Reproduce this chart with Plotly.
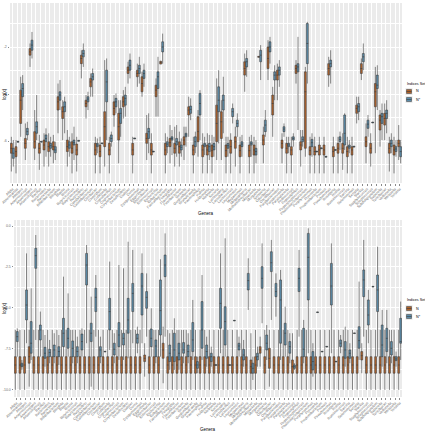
import plotly.graph_objects as go

genera = ["Afipia","Akkermansia","Alistipes","Anaerococcus","Anaerostipes","Anaerotruncus",
"Bacillus","Bacteroides","Barnesiella","Bifidobacterium","Bilophila","Blautia",
"Bosea","Butyricicoccus","Butyricimonas","Butyrivibrio","Campylobacter","Catenibacterium",
"Citrobacter","Clostridium","Collinsella","Coprobacillus","Coprococcus","Corynebacterium",
"Desulfovibrio","Dialister","Dorea","Dysgonomonas","Eggerthella","Enterobacter",
"Enterococcus","Escherichia","Eubacterium","Faecalibacterium","Finegoldia","Flavonifractor",
"Fusobacterium","Gemella","Gordonibacter","Granulicatella","Haemophilus","Hafnia",
"Holdemania","Klebsiella","Kocuria","Lachnospira","Lactobacillus","Lactococcus",
"Leuconostoc","Megamonas","Megasphaera","Methanobrevibacter","Mitsuokella","Morganella",
"Neisseria","Odoribacter","Oscillibacter","Parabacteroides","Paraprevotella","Parasutterella",
"Pediococcus","Peptoniphilus","Peptostreptococcus","Phascolarctobacterium","Porphyromonas","Prevotella",
"Propionibacterium","Proteus","Pseudomonas","Roseburia","Rothia","Ruminococcus",
"Sarcina","Selenomonas","Serratia","Slackia","Staphylococcus","Streptococcus",
"Subdoligranulum","Sutterella","Turicibacter","Veillonella","Weissella","Yersinia"]

series_names = ["N", "N*"]

# ---------------- top panel: N ----------------
top_n_lo = [-7.30,-7.38,-5.82,-6.81,-2.84,-6.81,-7.23,-7.09,-7.09,-6.95,-5.67,-5.96,
            -7.09,-7.38,-7.30,-3.33,-5.04,-4.11,-7.38,-7.38,-7.09,-7.38,-5.39,-6.95,
            -5.04,-3.55,-7.38,-3.69,-4.11,-6.81,-7.38,-4.96,-2.72,-7.38,-6.95,-7.09,
            -7.09,-6.81,-5.82,-7.38,-6.67,-7.38,-7.38,-7.38,-6.81,-6.81,-7.38,-7.38,
            -7.09,-7.38,-3.90,-7.38,-7.38,-2.43,-6.95,-3.40,-5.82,-4.26,-6.95,-7.38,
            -7.38,-3.55,-7.09,-6.67,-7.38,-7.38,-7.38,-7.38,-3.69,-7.38,-7.38,-7.23,
            -7.38,-7.38,-5.25,-3.40,-6.95,-7.09,-6.52,-6.24,-5.96,-7.30,-7.38,-6.81]
top_n_q1 = [-6.52,-6.67,-5.25,-6.31,-2.34,-6.31,-6.52,-6.38,-6.45,-6.38,-4.68,-5.04,
            -6.45,-6.52,-6.60,-2.70,-4.54,-3.69,-6.60,-6.67,-6.24,-6.60,-4.89,-5.96,
            -4.54,-3.12,-6.60,-3.26,-3.90,-6.10,-6.60,-4.11,-2.72,-6.60,-6.24,-6.52,
            -6.52,-6.17,-4.89,-6.60,-6.03,-6.67,-6.60,-6.67,-6.03,-5.89,-6.67,-6.52,
            -6.31,-6.67,-3.19,-6.67,-6.60,-2.43,-6.17,-2.91,-4.89,-3.40,-6.31,-6.52,
            -6.60,-3.12,-6.38,-6.31,-6.60,-6.60,-6.60,-6.60,-3.19,-6.67,-6.52,-6.52,
            -6.67,-6.60,-4.82,-3.12,-6.24,-6.52,-4.54,-5.53,-5.32,-6.52,-6.60,-6.24]
top_n_med = [-6.31,-6.45,-4.26,-6.10,-2.20,-6.03,-6.31,-6.17,-6.24,-6.24,-4.33,-4.75,
             -6.24,-6.31,-6.38,-2.48,-4.40,-3.48,-6.38,-6.45,-5.39,-6.38,-4.61,-5.39,
             -4.33,-2.98,-6.38,-3.12,-3.55,-5.89,-6.38,-3.83,-2.65,-6.38,-6.07,-6.31,
             -6.24,-5.96,-4.68,-6.38,-5.60,-6.38,-6.38,-6.41,-5.25,-5.18,-6.41,-6.24,
             -6.03,-6.41,-2.91,-6.41,-6.38,-2.41,-5.96,-2.48,-4.40,-3.19,-6.10,-6.31,
             -6.38,-2.91,-6.17,-3.90,-6.41,-6.45,-6.38,-6.38,-2.91,-6.45,-6.31,-6.31,
             -6.45,-6.38,-4.61,-2.91,-6.03,-6.31,-3.90,-5.11,-5.04,-6.31,-6.38,-6.10]
top_n_q3 = [-6.10,-6.24,-3.83,-5.89,-2.06,-5.60,-6.10,-5.96,-6.03,-6.03,-4.11,-4.54,
            -5.96,-6.03,-6.13,-2.34,-4.26,-3.33,-6.10,-6.17,-4.75,-6.10,-4.33,-4.82,
            -4.11,-2.84,-6.10,-2.98,-3.26,-5.67,-6.10,-3.62,-2.60,-6.10,-5.89,-6.10,
            -6.03,-5.82,-4.54,-6.17,-4.96,-6.17,-6.17,-6.17,-4.47,-4.75,-6.17,-5.96,
            -5.82,-6.17,-2.62,-6.17,-6.17,-2.39,-5.74,-1.99,-4.04,-2.98,-5.96,-6.10,
            -6.24,-2.77,-6.03,-3.05,-6.24,-6.24,-6.17,-6.17,-2.70,-6.24,-6.10,-6.10,
            -6.24,-6.24,-4.47,-2.70,-5.82,-6.10,-3.55,-4.89,-4.82,-6.10,-6.17,-5.96]
top_n_hi = [-5.82,-5.96,-3.26,-5.25,-1.84,-4.68,-5.74,-5.67,-5.67,-5.74,-3.55,-4.26,
            -5.53,-5.67,-5.82,-2.13,-4.04,-3.12,-5.82,-5.82,-2.55,-5.82,-4.04,-4.26,
            -3.83,-2.62,-5.82,-2.70,-3.05,-4.89,-5.67,-3.33,-2.58,-5.67,-5.32,-5.39,
            -5.60,-5.39,-4.11,-5.82,-4.68,-5.67,-5.67,-5.74,-3.33,-4.26,-5.82,-5.67,
            -5.39,-5.82,-2.27,-5.82,-5.82,-2.39,-5.39,-1.70,-3.69,-2.70,-5.67,-5.82,
            -5.82,-2.55,-5.53,-2.84,-5.82,-5.82,-5.82,-5.82,-2.41,-5.82,-5.82,-5.67,
            -5.82,-5.82,-4.11,-2.48,-5.25,-5.67,-2.84,-4.68,-4.40,-5.82,-5.82,-5.32]

# ---------------- top panel: N* ----------------
top_s_lo = [-7.09,-6.05,-4.68,-5.96,-2.48,-5.96,-6.05,-6.67,-6.67,-6.81,-4.68,-5.67,
            -6.67,-6.81,-6.01,-2.84,-4.68,-4.11,-6.52,-6.12,-5.96,-6.24,-4.82,-5.82,
            -4.96,-3.33,-5.91,-3.55,-3.69,-6.52,-6.47,-4.96,-2.70,-6.52,-6.60,-6.67,
            -6.67,-6.24,-5.11,-6.52,-5.96,-6.60,-6.81,-6.67,-6.10,-5.67,-6.67,-5.25,
            -5.82,-6.67,-3.26,-6.67,-6.95,-3.40,-5.82,-2.70,-4.26,-3.69,-5.82,-6.52,
            -6.24,-5.53,-6.24,-3.55,-6.67,-6.47,-6.33,-6.69,-3.55,-6.40,-6.38,-6.38,
            -6.52,-6.26,-5.11,-2.98,-5.82,-5.23,-4.68,-5.96,-5.67,-6.52,-6.67,-6.95]
top_s_q1 = [-6.74,-6.05,-4.11,-5.74,-2.13,-5.67,-6.05,-6.03,-6.31,-6.50,-4.26,-4.75,
            -6.31,-6.17,-6.01,-2.41,-4.33,-3.40,-6.24,-6.12,-4.33,-6.03,-4.54,-5.25,
            -4.47,-2.98,-5.91,-3.12,-3.33,-5.89,-6.47,-3.76,-2.20,-6.24,-5.96,-6.17,
            -6.38,-5.82,-4.82,-6.24,-4.89,-6.24,-6.45,-6.38,-4.75,-4.68,-6.31,-4.96,
            -5.39,-6.24,-2.84,-6.17,-6.60,-2.62,-5.60,-2.20,-3.40,-3.19,-5.60,-6.24,
            -5.96,-3.05,-6.03,-2.70,-6.24,-6.47,-6.33,-6.69,-2.84,-6.40,-6.03,-6.17,
            -6.31,-6.26,-4.75,-2.62,-5.46,-5.23,-3.76,-5.25,-5.04,-6.24,-6.45,-6.67]
top_s_med = [-6.52,-6.03,-3.76,-5.60,-1.91,-5.39,-6.03,-5.89,-6.20,-6.38,-4.04,-4.54,
             -6.17,-6.07,-5.99,-2.27,-4.21,-3.26,-6.17,-6.10,-3.48,-5.89,-4.33,-4.82,
             -4.18,-2.77,-5.89,-2.91,-3.12,-5.60,-6.45,-3.26,-1.99,-6.13,-5.89,-6.03,
             -6.27,-5.74,-4.65,-6.03,-4.40,-6.17,-6.24,-6.24,-4.26,-4.26,-6.20,-4.75,
             -5.25,-6.13,-2.62,-6.10,-6.45,-2.34,-5.32,-1.99,-3.19,-2.98,-5.49,-6.17,
             -5.89,-2.84,-5.93,-1.84,-6.07,-6.45,-6.31,-6.67,-2.70,-6.38,-5.93,-5.67,
             -6.24,-6.24,-4.54,-2.41,-5.28,-5.21,-3.62,-4.96,-4.82,-6.10,-6.34,-6.45]
top_s_q3 = [-6.31,-6.01,-3.55,-5.46,-1.70,-5.18,-6.01,-5.74,-6.10,-6.24,-3.90,-4.33,
            -6.03,-5.96,-5.97,-2.13,-4.11,-3.12,-6.10,-6.08,-2.98,-5.74,-4.18,-4.61,
            -4.04,-2.55,-5.87,-2.77,-2.98,-5.46,-6.43,-3.05,-1.77,-6.03,-5.82,-5.89,
            -6.17,-5.67,-4.51,-5.82,-3.97,-6.10,-6.10,-6.10,-3.69,-4.04,-6.10,-4.61,
            -5.11,-6.03,-2.48,-6.03,-6.31,-2.13,-5.11,-1.77,-3.05,-2.84,-5.39,-6.10,
            -5.82,-2.70,-5.82,-0.99,-5.93,-6.43,-6.29,-6.65,-2.55,-6.36,-5.82,-4.89,
            -6.17,-6.22,-4.40,-2.27,-5.11,-5.19,-3.19,-4.82,-4.68,-5.96,-6.24,-6.24]
top_s_hi = [-5.96,-6.01,-3.19,-5.18,-1.35,-4.04,-6.01,-5.46,-5.82,-6.03,-3.40,-4.11,
            -5.82,-5.39,-5.97,-1.84,-3.90,-2.91,-5.89,-6.08,-2.48,-5.60,-3.97,-4.26,
            -3.69,-2.27,-5.87,-2.41,-2.70,-4.82,-6.43,-2.41,-1.42,-5.82,-5.53,-5.32,
            -5.89,-5.39,-4.18,-5.60,-3.83,-5.82,-5.74,-5.82,-2.98,-3.26,-5.82,-4.40,
            -4.82,-5.74,-2.13,-5.74,-5.96,-1.91,-4.68,-1.56,-2.77,-2.55,-5.25,-5.82,
            -5.67,-1.56,-5.53,-0.92,-5.67,-6.43,-6.29,-6.65,-2.13,-6.36,-5.60,-4.82,
            -5.96,-6.22,-4.11,-1.84,-4.89,-5.19,-2.77,-4.40,-4.26,-5.67,-5.96,-5.96]

# ---------------- bottom panel: N ----------------
bot_n_lo = [-10.0,-10.0,-10.0,-9.80,-10.0,-10.0,-10.0,-10.0,-10.0,-10.0,-10.0,-10.0,
            -10.0,-10.0,-10.0,-10.0,-10.0,-10.0,-10.0,-10.0,-10.0,-10.0,-10.0,-10.0,
            -10.0,-10.0,-10.0,-10.0,-9.19,-10.0,-10.0,-10.0,-9.59,-10.0,-10.0,-10.0,
            -10.0,-10.0,-10.0,-10.0,-10.0,-10.0,-10.0,-10.0,-10.0,-10.0,-10.0,-10.0,
            -10.0,-10.0,-10.0,-10.0,-10.0,-8.58,-10.0,-9.80,-10.0,-10.0,-10.0,-10.0,
            -10.0,-10.0,-10.0,-10.0,-10.0,-10.0,-10.0,-10.0,-10.0,-10.0,-10.0,-10.0,
            -10.0,-10.0,-10.0,-8.98,-10.0,-10.0,-10.0,-10.0,-10.0,-10.0,-10.0,-10.0]
bot_n_q1 = [-8.98,-8.98,-8.98,-8.37,-8.98,-8.98,-8.98,-8.98,-8.98,-8.98,-8.98,-8.98,
            -8.98,-8.98,-8.98,-8.98,-8.98,-8.98,-8.98,-8.98,-8.98,-8.98,-8.98,-8.98,
            -8.98,-8.98,-8.98,-8.98,-8.27,-8.98,-8.98,-8.98,-8.07,-8.98,-8.98,-8.98,
            -8.98,-8.98,-8.98,-8.98,-8.98,-8.98,-8.98,-8.98,-8.98,-8.98,-8.98,-8.98,
            -8.98,-8.98,-8.98,-8.98,-8.98,-7.76,-8.98,-8.68,-8.98,-8.98,-8.98,-8.98,
            -8.98,-8.98,-8.98,-8.98,-8.98,-8.98,-8.98,-8.98,-8.98,-8.98,-8.98,-8.98,
            -8.98,-8.98,-8.98,-8.17,-8.98,-8.98,-8.98,-8.98,-8.98,-8.98,-8.98,-8.98]
bot_n_med = [-8.48,-8.48,-8.48,-7.97,-8.48,-8.48,-8.48,-8.48,-8.48,-8.48,-8.48,-8.48,
             -8.48,-8.48,-8.48,-8.48,-8.48,-8.48,-8.48,-8.48,-8.48,-8.48,-8.48,-8.48,
             -8.48,-8.48,-8.48,-8.48,-8.07,-8.48,-8.48,-8.48,-7.56,-8.48,-8.48,-8.48,
             -8.48,-8.48,-8.48,-8.48,-8.48,-8.48,-8.48,-8.48,-8.48,-8.48,-8.48,-8.48,
             -8.48,-8.48,-8.48,-8.58,-8.48,-7.56,-8.48,-8.07,-8.48,-8.48,-8.48,-8.48,
             -8.58,-8.48,-8.48,-8.48,-8.48,-8.48,-8.48,-8.48,-8.48,-8.48,-8.48,-8.48,
             -8.48,-8.48,-8.48,-7.91,-8.48,-8.48,-8.48,-8.48,-8.48,-8.48,-8.48,-8.48]
bot_n_q3 = [-7.97,-7.97,-7.97,-7.36,-7.97,-7.97,-7.97,-7.97,-7.97,-7.97,-7.97,-7.97,
            -7.97,-7.97,-7.97,-7.97,-7.97,-7.97,-7.97,-7.97,-7.97,-7.97,-7.97,-7.97,
            -7.97,-7.97,-7.97,-7.97,-7.87,-7.97,-7.97,-7.97,-7.15,-7.97,-7.97,-7.97,
            -7.97,-7.97,-7.97,-7.97,-7.97,-7.97,-7.97,-7.97,-7.97,-7.97,-7.97,-7.97,
            -7.97,-7.97,-7.97,-8.17,-7.97,-7.36,-7.97,-7.46,-7.97,-7.97,-7.97,-7.97,
            -8.17,-7.97,-7.97,-7.97,-7.97,-7.97,-7.97,-7.97,-7.97,-7.97,-7.97,-7.97,
            -7.97,-7.97,-7.97,-7.66,-7.97,-7.97,-7.97,-7.97,-7.97,-7.97,-7.97,-7.97]
bot_n_hi = [-6.34,-6.34,-6.34,-6.34,-6.34,-6.34,-6.34,-6.34,-6.34,-6.34,-6.34,-6.34,
            -6.34,-6.34,-6.34,-6.34,-6.34,-6.34,-6.34,-6.34,-6.34,-6.34,-6.34,-6.34,
            -6.34,-6.34,-6.34,-6.34,-7.15,-6.34,-6.34,-6.34,-6.14,-6.34,-6.34,-6.34,
            -6.34,-6.34,-6.34,-6.34,-6.34,-6.34,-6.34,-6.34,-6.34,-6.34,-6.34,-6.34,
            -6.34,-6.34,-6.34,-6.54,-6.34,-6.75,-6.34,-6.34,-6.34,-6.34,-6.34,-6.34,
            -6.54,-6.34,-6.34,-6.34,-6.34,-6.34,-6.34,-6.34,-6.34,-6.34,-6.34,-6.34,
            -6.34,-6.34,-6.34,-7.15,-6.34,-6.34,-6.34,-6.34,-6.34,-6.34,-6.34,-6.34]

# ---------------- bottom panel: N* ----------------
bot_s_lo = [-7.97,-8.78,-7.15,-8.17,-6.95,-7.97,-8.58,-8.37,-8.37,-8.48,-7.97,-7.97,
            -8.37,-8.37,-7.97,-7.15,-9.80,-6.75,-8.37,-7.68,-7.56,-8.37,-8.17,-8.17,
            -8.07,-7.15,-7.76,-7.15,-6.75,-7.97,-8.37,-7.97,-6.75,-8.78,-8.78,-8.78,
            -8.37,-8.37,-8.17,-8.98,-8.17,-8.58,-8.58,-8.50,-7.76,-7.97,-8.50,-5.79,
            -7.97,-8.58,-5.12,-9.39,-8.58,-5.93,-8.17,-5.73,-5.53,-8.17,-7.97,-8.37,
            -8.78,-6.75,-8.37,-7.76,-9.19,-5.28,-7.68,-7.38,-7.76,-8.29,-7.76,-8.58,
            -8.37,-6.56,-8.17,-6.75,-7.15,-3.72,-7.97,-8.58,-8.37,-8.37,-8.58,-8.17]
bot_s_q1 = [-7.05,-8.58,-5.73,-7.76,-2.58,-6.95,-8.07,-7.97,-7.97,-7.97,-7.36,-7.46,
            -7.97,-7.97,-7.56,-3.60,-7.05,-5.22,-7.97,-7.68,-6.34,-7.87,-7.36,-7.26,
            -6.54,-5.22,-7.15,-5.43,-5.02,-7.36,-7.97,-6.65,-3.09,-8.27,-8.27,-8.17,
            -7.76,-7.97,-7.66,-8.68,-7.46,-8.07,-8.27,-8.50,-6.24,-7.26,-8.50,-5.79,
            -7.56,-8.17,-3.90,-8.98,-8.17,-3.80,-7.56,-2.78,-4.31,-7.15,-7.26,-7.76,
            -8.68,-4.00,-7.97,-4.51,-8.78,-5.28,-7.68,-7.38,-4.82,-8.29,-7.36,-8.07,
            -8.07,-6.56,-7.46,-4.31,-6.04,-3.72,-5.22,-7.97,-7.66,-7.87,-8.21,-7.15]
bot_s_med = [-6.75,-8.48,-4.82,-7.15,-1.81,-6.34,-7.76,-7.72,-7.56,-7.66,-6.54,-6.85,
             -7.46,-7.66,-7.05,-2.38,-6.54,-4.35,-7.56,-7.66,-5.22,-7.52,-6.65,-6.85,
             -5.73,-4.11,-6.85,-3.66,-4.35,-6.85,-7.32,-5.16,-2.38,-7.76,-7.56,-7.76,
             -7.56,-7.66,-6.95,-8.48,-6.34,-7.66,-7.97,-8.48,-4.72,-5.83,-8.48,-5.77,
             -7.32,-7.87,-3.33,-8.68,-7.97,-3.19,-7.15,-2.24,-4.00,-4.51,-6.54,-7.36,
             -8.58,-3.19,-7.52,-1.91,-8.27,-5.26,-7.66,-7.36,-3.66,-8.27,-7.15,-7.56,
             -7.76,-6.54,-6.99,-3.29,-5.43,-3.70,-3.90,-7.26,-6.85,-7.46,-8.11,-7.05]
bot_s_q3 = [-6.44,-8.37,-3.90,-5.83,-1.36,-6.04,-7.40,-7.52,-7.26,-7.36,-5.63,-6.24,
            -7.01,-7.36,-6.59,-1.67,-5.93,-3.80,-7.36,-7.64,-4.41,-7.15,-5.89,-6.54,
            -4.41,-3.50,-6.59,-2.89,-4.00,-6.28,-6.95,-3.29,-1.77,-7.26,-6.54,-7.15,
            -7.11,-7.26,-5.89,-8.27,-4.61,-7.26,-7.76,-8.46,-3.80,-4.92,-8.46,-5.75,
            -7.15,-7.52,-2.89,-8.37,-7.76,-2.48,-6.65,-1.57,-3.50,-3.29,-5.93,-7.05,
            -8.48,-2.58,-6.24,-0.45,-7.66,-5.24,-7.64,-7.34,-2.28,-8.25,-6.95,-7.05,
            -7.56,-6.52,-6.14,-2.68,-4.51,-3.68,-2.99,-6.04,-6.24,-7.05,-7.97,-5.63]
bot_s_hi = [-6.24,-8.17,-1.67,-3.80,-0.55,-5.22,-6.65,-6.95,-6.54,-6.65,-3.09,-4.11,
            -6.34,-6.75,-6.24,-1.16,-4.31,-2.99,-6.75,-7.64,-2.17,-6.54,-2.38,-2.58,
            -0.96,-1.46,-6.14,-1.67,-2.89,-5.02,-6.34,-2.03,-0.45,-6.54,-5.63,-6.34,
            -6.34,-6.54,-4.51,-7.97,-2.99,-6.75,-7.36,-8.46,-1.67,-0.75,-8.46,-5.75,
            -6.75,-6.95,-1.97,-7.97,-7.36,-1.06,-6.04,-0.85,-2.89,-2.68,-4.92,-6.54,
            -8.37,-1.46,-5.73,-0.14,-7.15,-5.24,-7.64,-7.34,-1.06,-8.25,-6.65,-6.14,
            -7.15,-6.52,-3.39,-0.85,-3.90,-3.68,-1.26,-5.12,-5.12,-6.34,-7.66,-4.61]

top_y_ticks = [-6, -4, -2]
top_y_ticklabels = ["-6", "-4", "-2"]
bot_y_ticks = [-10.0, -7.5, -5.0, -2.5, 0.0]
bot_y_ticklabels = ["-10.0", "-7.5", "-5.0", "-2.5", "0.0"]
legend_title = "Indices Set"

BROWN = "#b0622a"
BLUE = "#5b8dab"
EDGE = "#3a3a3a"
FONT = "Liberation Sans, Arial, sans-serif"

W, H = 425, 433
def px_x(p): return p / W
def px_y(p): return 1 - p / H

fig = go.Figure()

def add_box(name, color, lo, q1, med, q3, hi, xa, ya, group):
    fig.add_trace(go.Box(
        x=genera, lowerfence=lo, q1=q1, median=med, q3=q3, upperfence=hi,
        name=name, fillcolor=color, line=dict(color=EDGE, width=0.6),
        whiskerwidth=0, boxpoints=False, offsetgroup=group,
        xaxis=xa, yaxis=ya, showlegend=False, hoverinfo="skip"))

add_box(series_names[0], BROWN, top_n_lo, top_n_q1, top_n_med, top_n_q3, top_n_hi, "x", "y", "a")
add_box(series_names[1], BLUE, top_s_lo, top_s_q1, top_s_med, top_s_q3, top_s_hi, "x", "y", "b")
add_box(series_names[0], BROWN, bot_n_lo, bot_n_q1, bot_n_med, bot_n_q3, bot_n_hi, "x2", "y2", "a")
add_box(series_names[1], BLUE, bot_s_lo, bot_s_q1, bot_s_med, bot_s_q3, bot_s_hi, "x2", "y2", "b")

xcommon = dict(type="category", categoryorder="array", categoryarray=genera,
               tickmode="array", tickvals=genera, ticktext=genera,
               showgrid=True, gridcolor="white", gridwidth=0.6,
               ticks="outside", ticklen=1.5, tickcolor="#8a8a8a", tickwidth=0.4,
               tickangle=-45, tickfont=dict(size=3.6, color="#6a6a6a", family=FONT),
               showline=False, zeroline=False, fixedrange=True, automargin=False)
ycommon = dict(showgrid=True, gridcolor="white", gridwidth=0.8,
               ticks="outside", ticklen=1.5, tickcolor="#8a8a8a", tickwidth=0.4,
               tickfont=dict(size=3.5, color="#6a6a6a", family=FONT),
               showline=False, zeroline=False, automargin=False)

fig.update_layout(
    width=W, height=H, margin=dict(l=0, r=0, t=0, b=0, autoexpand=False),
    paper_bgcolor="white", plot_bgcolor="#ebebeb",
    boxmode="group", boxgap=0.16, boxgroupgap=0.04,
    font=dict(family=FONT, color="black"),
    showlegend=False,
    xaxis=dict(xcommon, domain=[px_x(10), px_x(402)], anchor="y"),
    yaxis=dict(ycommon, domain=[px_y(183), px_y(3)], anchor="x",
               range=[-7.79, -0.115], tickvals=top_y_ticks, ticktext=top_y_ticklabels,
               minor=dict(showgrid=True, gridcolor="white", gridwidth=0.4, tickvals=[-7, -5, -3, -1])),
    xaxis2=dict(xcommon, domain=[px_x(14), px_x(402)], anchor="y2"),
    yaxis2=dict(ycommon, domain=[px_y(397), px_y(220)], anchor="x2",
                range=[-10.43, 0.366], tickvals=bot_y_ticks, ticktext=bot_y_ticklabels,
                minor=dict(showgrid=True, gridcolor="white", gridwidth=0.4,
                           tickvals=[-8.75, -6.25, -3.75, -1.25])),
)

ann = [
    dict(text="log(x)", x=px_x(4), y=px_y(94), textangle=-90),
    dict(text="Genera", x=px_x(206), y=px_y(213), textangle=0),
    dict(text="log(x)", x=px_x(4), y=px_y(308), textangle=-90),
    dict(text="Genera", x=px_x(208), y=px_y(429), textangle=0),
]
for a in ann:
    fig.add_annotation(xref="paper", yref="paper", showarrow=False,
                       font=dict(size=4.5, color="black", family=FONT),
                       xanchor="center", yanchor="middle", **a)

def draw_legend(title_y, key1_top, key2_top):
    fig.add_annotation(xref="paper", yref="paper", showarrow=False, text=legend_title,
                       x=px_x(405), y=px_y(title_y), xanchor="left", yanchor="middle",
                       font=dict(size=3.7, color="black", family=FONT))
    for top, col, lab in [(key1_top, BROWN, series_names[0]), (key2_top, BLUE, series_names[1])]:
        fig.add_shape(type="rect", xref="paper", yref="paper",
                      x0=px_x(405.5), x1=px_x(412.5), y0=px_y(top + 6.5), y1=px_y(top - 0.5),
                      fillcolor="#ebebeb", line=dict(width=0))
        fig.add_shape(type="rect", xref="paper", yref="paper",
                      x0=px_x(406.5), x1=px_x(411.5), y0=px_y(top + 5), y1=px_y(top + 1),
                      fillcolor=col, line=dict(color=EDGE, width=0.5))
        fig.add_shape(type="line", xref="paper", yref="paper",
                      x0=px_x(406.5), x1=px_x(411.5), y0=px_y(top + 3), y1=px_y(top + 3),
                      line=dict(color=EDGE, width=0.6))
        fig.add_annotation(xref="paper", yref="paper", showarrow=False, text=lab,
                           x=px_x(414), y=px_y(top + 3), xanchor="left", yanchor="middle",
                           font=dict(size=3.7, color="black", family=FONT))

draw_legend(83.5, 88.5, 96.5)
draw_legend(300, 305.5, 313.5)

fig.write_html("out.html")
